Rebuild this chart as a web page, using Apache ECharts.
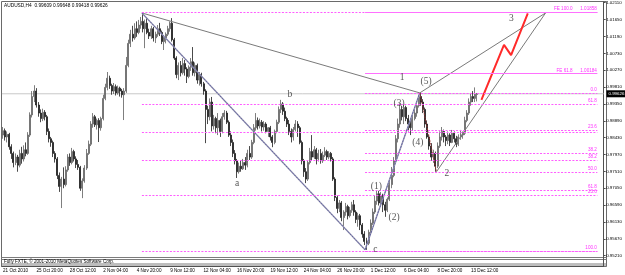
<!DOCTYPE html>
<html>
<head>
<meta charset="utf-8">
<script src="https://cdn.jsdelivr.net/npm/echarts@6/dist/echarts.min.js"></script>
<style>
  html, body { margin: 0; padding: 0; background: #fff; }
  #chart { width: 625px; height: 275px; }
</style>
</head>
<body>
<div id="chart"></div>
<script>
// AUDUSD H4 bars, [open, close, low, high]
const ohlc = [
  [0.9850, 0.9862, 0.9840, 0.9872], [0.9862, 0.9845, 0.9835, 0.9868], [0.9845, 0.9852, 0.9830, 0.9860], [0.9852, 0.9818, 0.9810, 0.9856],
  [0.9818, 0.9800, 0.9785, 0.9825], [0.9800, 0.9775, 0.9762, 0.9805], [0.9775, 0.9790, 0.9768, 0.9800], [0.9790, 0.9768, 0.9750, 0.9796],
  [0.9768, 0.9800, 0.9762, 0.9810], [0.9800, 0.9785, 0.9772, 0.9818], [0.9785, 0.9810, 0.9778, 0.9822], [0.9810, 0.9800, 0.9792, 0.9830],
  [0.9800, 0.9850, 0.9796, 0.9858], [0.9850, 0.9905, 0.9845, 0.9912], [0.9905, 0.9955, 0.9898, 0.9970], [0.9955, 0.9970, 0.9940, 0.9986],
  [0.9970, 0.9932, 0.9925, 0.9978], [0.9932, 0.9910, 0.9900, 0.9940], [0.9910, 0.9895, 0.9885, 0.9920], [0.9895, 0.9912, 0.9888, 0.9922],
  [0.9912, 0.9900, 0.9890, 0.9918], [0.9900, 0.9860, 0.9850, 0.9905], [0.9860, 0.9840, 0.9830, 0.9868], [0.9840, 0.9830, 0.9818, 0.9845],
  [0.9830, 0.9800, 0.9790, 0.9835], [0.9800, 0.9785, 0.9775, 0.9806], [0.9785, 0.9740, 0.9730, 0.9790], [0.9740, 0.9710, 0.9695, 0.9748],
  [0.9710, 0.9730, 0.9651, 0.9736], [0.9730, 0.9715, 0.9705, 0.9762], [0.9715, 0.9755, 0.9710, 0.9765], [0.9755, 0.9790, 0.9750, 0.9798],
  [0.9790, 0.9775, 0.9766, 0.9800], [0.9775, 0.9805, 0.9770, 0.9815], [0.9805, 0.9785, 0.9778, 0.9810], [0.9785, 0.9770, 0.9760, 0.9792],
  [0.9770, 0.9762, 0.9755, 0.9782], [0.9762, 0.9705, 0.9698, 0.9766], [0.9705, 0.9725, 0.9678, 0.9732], [0.9725, 0.9760, 0.9720, 0.9768],
  [0.9760, 0.9800, 0.9755, 0.9812], [0.9800, 0.9825, 0.9796, 0.9835], [0.9825, 0.9880, 0.9820, 0.9888], [0.9880, 0.9900, 0.9870, 0.9910],
  [0.9900, 0.9878, 0.9872, 0.9905], [0.9878, 0.9890, 0.9865, 0.9895], [0.9890, 0.9870, 0.9831, 0.9896], [0.9870, 0.9895, 0.9862, 0.9900],
  [0.9895, 0.9950, 0.9890, 0.9960], [0.9950, 0.9980, 0.9945, 0.9990], [0.9980, 1.0005, 0.9972, 1.0022], [1.0005, 0.9985, 0.9976, 1.0012],
  [0.9985, 0.9970, 0.9960, 0.9990], [0.9970, 0.9982, 0.9962, 0.9992], [0.9982, 0.9965, 0.9958, 0.9988], [0.9965, 0.9978, 0.9960, 0.9985],
  [0.9978, 0.9970, 0.9955, 0.9982], [0.9970, 0.9960, 0.9952, 0.9976], [0.9960, 0.9970, 0.9891, 0.9978], [0.9970, 1.0040, 0.9965, 1.0063],
  [1.0040, 1.0100, 1.0035, 1.0110], [1.0100, 1.0125, 1.0090, 1.0137], [1.0125, 1.0115, 1.0105, 1.0148], [1.0115, 1.0140, 1.0110, 1.0155],
  [1.0140, 1.0130, 1.0118, 1.0160], [1.0130, 1.0150, 1.0125, 1.0164], [1.0150, 1.0160, 1.0140, 1.0172], [1.0160, 1.0140, 1.0130, 1.0183],
  [1.0140, 1.0155, 1.0087, 1.0165], [1.0155, 1.0130, 1.0125, 1.0170], [1.0130, 1.0120, 1.0112, 1.0140], [1.0120, 1.0140, 1.0112, 1.0148],
  [1.0140, 1.0115, 1.0105, 1.0145], [1.0115, 1.0125, 1.0101, 1.0132], [1.0125, 1.0140, 1.0118, 1.0150], [1.0140, 1.0130, 1.0120, 1.0156],
  [1.0130, 1.0105, 1.0098, 1.0135], [1.0105, 1.0115, 1.0082, 1.0120], [1.0115, 1.0125, 1.0100, 1.0130], [1.0125, 1.0140, 1.0120, 1.0148],
  [1.0140, 1.0155, 1.0132, 1.0160], [1.0155, 1.0110, 1.0105, 1.0169], [1.0110, 1.0060, 1.0055, 1.0115], [1.0060, 1.0015, 1.0005, 1.0065],
  [1.0015, 1.0040, 1.0000, 1.0048], [1.0040, 1.0020, 1.0010, 1.0052], [1.0020, 1.0045, 1.0015, 1.0060], [1.0045, 1.0030, 1.0012, 1.0055],
  [1.0030, 1.0010, 0.9992, 1.0035], [1.0010, 1.0035, 1.0005, 1.0040], [1.0035, 1.0050, 1.0025, 1.0060], [1.0050, 1.0020, 1.0012, 1.0090],
  [1.0020, 1.0040, 1.0010, 1.0048], [1.0040, 1.0000, 0.9990, 1.0045], [1.0000, 1.0015, 0.9985, 1.0022], [1.0015, 0.9990, 0.9982, 1.0020],
  [0.9990, 0.9970, 0.9960, 0.9995], [0.9970, 0.9920, 0.9828, 0.9975], [0.9920, 0.9900, 0.9880, 0.9930], [0.9900, 0.9940, 0.9890, 0.9950],
  [0.9940, 0.9875, 0.9860, 0.9954], [0.9875, 0.9895, 0.9865, 0.9905], [0.9895, 0.9870, 0.9855, 0.9900], [0.9870, 0.9890, 0.9850, 0.9910],
  [0.9890, 0.9860, 0.9845, 0.9895], [0.9860, 0.9900, 0.9855, 0.9910], [0.9900, 0.9910, 0.9892, 0.9918], [0.9910, 0.9885, 0.9880, 0.9916],
  [0.9885, 0.9850, 0.9845, 0.9890], [0.9850, 0.9830, 0.9820, 0.9860], [0.9830, 0.9800, 0.9790, 0.9838], [0.9800, 0.9780, 0.9770, 0.9809],
  [0.9780, 0.9750, 0.9733, 0.9785], [0.9750, 0.9765, 0.9745, 0.9775], [0.9765, 0.9758, 0.9750, 0.9780], [0.9758, 0.9775, 0.9755, 0.9785],
  [0.9775, 0.9768, 0.9755, 0.9790], [0.9768, 0.9800, 0.9762, 0.9810], [0.9800, 0.9790, 0.9782, 0.9820], [0.9790, 0.9830, 0.9785, 0.9837],
  [0.9830, 0.9870, 0.9825, 0.9880], [0.9870, 0.9890, 0.9862, 0.9910], [0.9890, 0.9875, 0.9865, 0.9898], [0.9875, 0.9885, 0.9868, 0.9895],
  [0.9885, 0.9872, 0.9860, 0.9891], [0.9872, 0.9880, 0.9862, 0.9888], [0.9880, 0.9860, 0.9855, 0.9885], [0.9860, 0.9870, 0.9845, 0.9872],
  [0.9870, 0.9845, 0.9835, 0.9875], [0.9845, 0.9830, 0.9817, 0.9850], [0.9830, 0.9860, 0.9825, 0.9865], [0.9860, 0.9885, 0.9855, 0.9892],
  [0.9885, 0.9920, 0.9880, 0.9928], [0.9920, 0.9935, 0.9910, 0.9946], [0.9935, 0.9915, 0.9905, 0.9940], [0.9915, 0.9895, 0.9888, 0.9925],
  [0.9895, 0.9880, 0.9872, 0.9900], [0.9880, 0.9860, 0.9850, 0.9891], [0.9860, 0.9845, 0.9830, 0.9868], [0.9845, 0.9865, 0.9835, 0.9872],
  [0.9865, 0.9880, 0.9860, 0.9891], [0.9880, 0.9870, 0.9845, 0.9888], [0.9870, 0.9830, 0.9825, 0.9875], [0.9830, 0.9780, 0.9770, 0.9835],
  [0.9780, 0.9750, 0.9736, 0.9785], [0.9750, 0.9730, 0.9719, 0.9760], [0.9730, 0.9775, 0.9725, 0.9780], [0.9775, 0.9805, 0.9770, 0.9815],
  [0.9805, 0.9790, 0.9780, 0.9850], [0.9790, 0.9810, 0.9785, 0.9820], [0.9810, 0.9785, 0.9770, 0.9815], [0.9785, 0.9800, 0.9778, 0.9810],
  [0.9800, 0.9780, 0.9772, 0.9812], [0.9780, 0.9795, 0.9774, 0.9805], [0.9795, 0.9805, 0.9790, 0.9817], [0.9805, 0.9790, 0.9782, 0.9810],
  [0.9790, 0.9800, 0.9784, 0.9806], [0.9800, 0.9785, 0.9778, 0.9804], [0.9785, 0.9730, 0.9725, 0.9790], [0.9730, 0.9680, 0.9670, 0.9735],
  [0.9680, 0.9650, 0.9637, 0.9685], [0.9650, 0.9665, 0.9640, 0.9673], [0.9665, 0.9625, 0.9615, 0.9670], [0.9625, 0.9640, 0.9591, 0.9645],
  [0.9640, 0.9655, 0.9630, 0.9665], [0.9655, 0.9630, 0.9620, 0.9660], [0.9630, 0.9645, 0.9625, 0.9654], [0.9645, 0.9660, 0.9638, 0.9668],
  [0.9660, 0.9640, 0.9630, 0.9673], [0.9640, 0.9620, 0.9610, 0.9645], [0.9620, 0.9630, 0.9600, 0.9638], [0.9630, 0.9605, 0.9591, 0.9635],
  [0.9605, 0.9580, 0.9570, 0.9610], [0.9580, 0.9560, 0.9550, 0.9588], [0.9560, 0.9555, 0.9537, 0.9570], [0.9555, 0.9585, 0.9550, 0.9592],
  [0.9585, 0.9610, 0.9580, 0.9620], [0.9610, 0.9640, 0.9605, 0.9650], [0.9640, 0.9670, 0.9635, 0.9685], [0.9670, 0.9690, 0.9660, 0.9700],
  [0.9690, 0.9665, 0.9658, 0.9698], [0.9665, 0.9685, 0.9655, 0.9695], [0.9685, 0.9660, 0.9640, 0.9690], [0.9660, 0.9645, 0.9627, 0.9668],
  [0.9645, 0.9675, 0.9640, 0.9680], [0.9675, 0.9715, 0.9670, 0.9727], [0.9715, 0.9740, 0.9705, 0.9763], [0.9740, 0.9780, 0.9735, 0.9790],
  [0.9780, 0.9840, 0.9775, 0.9850], [0.9840, 0.9880, 0.9830, 0.9895], [0.9880, 0.9920, 0.9870, 0.9937], [0.9920, 0.9900, 0.9890, 0.9930],
  [0.9900, 0.9925, 0.9880, 0.9932], [0.9925, 0.9895, 0.9888, 0.9930], [0.9895, 0.9880, 0.9860, 0.9905], [0.9880, 0.9870, 0.9850, 0.9888],
  [0.9870, 0.9895, 0.9862, 0.9905], [0.9895, 0.9910, 0.9890, 0.9920], [0.9910, 0.9930, 0.9900, 0.9937], [0.9930, 0.9955, 0.9925, 0.9960],
  [0.9955, 0.9940, 0.9930, 0.9965], [0.9940, 0.9920, 0.9910, 0.9948], [0.9920, 0.9880, 0.9870, 0.9925], [0.9880, 0.9845, 0.9840, 0.9890],
  [0.9845, 0.9820, 0.9810, 0.9850], [0.9820, 0.9790, 0.9780, 0.9828], [0.9790, 0.9800, 0.9774, 0.9810], [0.9800, 0.9765, 0.9750, 0.9805],
  [0.9765, 0.9820, 0.9760, 0.9830], [0.9820, 0.9845, 0.9815, 0.9860], [0.9845, 0.9860, 0.9835, 0.9872], [0.9860, 0.9845, 0.9830, 0.9865],
  [0.9845, 0.9835, 0.9820, 0.9850], [0.9835, 0.9850, 0.9825, 0.9860], [0.9850, 0.9830, 0.9820, 0.9855], [0.9830, 0.9855, 0.9828, 0.9864],
  [0.9855, 0.9840, 0.9830, 0.9860], [0.9840, 0.9825, 0.9817, 0.9848], [0.9825, 0.9845, 0.9820, 0.9852], [0.9845, 0.9850, 0.9837, 0.9864],
  [0.9850, 0.9855, 0.9840, 0.9860], [0.9855, 0.9890, 0.9850, 0.9900], [0.9890, 0.9910, 0.9885, 0.9918], [0.9910, 0.9940, 0.9905, 0.9950],
  [0.9940, 0.9955, 0.9930, 0.9965], [0.9955, 0.9950, 0.9940, 0.9970], [0.9950, 0.9961, 0.9940, 0.9980], [0.99609, 0.99626, 0.99418, 0.99648]
]

// axis labels
const tickLabels = ['21 Oct 2010', '25 Oct 20:00', '28 Oct 12:00', '2 Nov 04:00', '4 Nov 20:00', '9 Nov 12:00', '12 Nov 04:00',
  '16 Nov 20:00', '19 Nov 12:00', '24 Nov 04:00', '26 Nov 20:00', '1 Dec 12:00', '6 Dec 04:00', '8 Dec 20:00', '13 Dec 12:00']
const tickEvery = 16
const slotCount = 288
const priceTicks = [0.9521, 0.9567, 0.9613, 0.9659, 0.9705, 0.9751, 0.9797, 0.9843, 0.9889, 0.9935,
  0.9981, 1.0027, 1.0073, 1.0119, 1.0165, 1.0211]
const lastBar = ohlc[ohlc.length - 1]

// wave points [bar, price]
const ptX = [66.5, 1.0183]
const pt5 = [199.5, 0.9965]
const pt2 = [207.5, 0.9750]
const ptC = [173.3, 0.9537]
const pt3 = [259.7, 1.0183]
// projected path (red)
const redPath = [[229, 0.9946], [239.8, 1.0096], [243.2, 1.0068], [251.2, 1.0182]]

// wave labels [text, bar, price]
const waveLabels = [
  ['1', 191, 1.0006], ['(5)', 202.5, 0.9997], ['(3)', 189.6, 0.9935], ['(4)', 198.6, 0.9831],
  ['2', 212.5, 0.9744], ['(1)', 178.7, 0.9711], ['(2)', 187.2, 0.9624], ['c', 178.2, 0.9537],
  ['a', 112.1, 0.9719], ['b', 137.3, 0.9962], ['3', 243.3, 1.0169]
]

// fibo levels [startBar, price, label]
const fibEnd = 284.5
const fibLevels = [
  [66.5, 1.0184, ''], [66.5, 0.9935, '61.8'], [66.5, 0.9858, ''], [66.5, 0.9782, '38.2'],
  [66.5, 0.9687, '23.6'], [66.5, 0.9534, ''],
  [173.3, 0.9965, '0.0'], [173.3, 0.9864, '23.6'], [173.3, 0.9801, '38.2'], [173.3, 0.9749, '50.0'],
  [173.3, 0.9700, '61.8'], [173.3, 0.9534, '100.0']
]
const feLevels = [
  [173.3, 1.01858, 'FE 100.0      1.01858'], [173.3, 1.00184, 'FE 61.8      1.00184']
]

const FONT = 'Liberation Sans'
const PINK = '#ff5cff'

const segment = (a, b, style, z) => ({
  type: 'line',
  xAxisIndex: 1,
  data: [a, b],
  symbol: 'none',
  silent: true,
  lineStyle: style,
  z: z || 3
})

const chart = echarts.init(document.getElementById('chart'))
chart.setOption({
  animation: false,
  backgroundColor: '#ffffff',
  grid: { left: 0, right: 18.5, top: 2, bottom: 8.5 },
  xAxis: [
    {
      type: 'category',
      data: Array.from({ length: slotCount }, (_, i) => i),
      boundaryGap: true,
      axisLine: { onZero: false, lineStyle: { color: '#505050', width: 1 } },
      axisTick: {
        alignWithLabel: true,
        length: 2,
        interval: (i) => i % tickEvery === 0 && i / tickEvery < tickLabels.length,
        lineStyle: { color: '#505050' }
      },
      axisLabel: {
        interval: (i) => i % tickEvery === 0 && i / tickEvery < tickLabels.length,
        formatter: (v, i) => tickLabels[i / tickEvery] || '',
        align: 'left',
        fontSize: 4.6,
        fontFamily: FONT,
        color: '#000',
        margin: 2
      },
      splitLine: { show: false }
    },
    {
      type: 'value',
      min: -0.5,
      max: slotCount - 0.5,
      show: false,
      axisLine: { onZero: false },
      splitLine: { show: false }
    }
  ],
  yAxis: {
    type: 'value',
    position: 'right',
    min: 0.94916,
    max: 1.02129,
    splitLine: { show: false },
    axisLine: { show: true, onZero: false, lineStyle: { color: '#505050' } },
    axisTick: { show: true, length: 2, customValues: priceTicks, lineStyle: { color: '#505050' } },
    axisLabel: {
      customValues: priceTicks,
      formatter: (v) => v.toFixed(5),
      fontSize: 4.4,
      fontFamily: FONT,
      color: '#000',
      margin: 2.5
    }
  },
  series: [
    {
      type: 'candlestick',
      data: ohlc,
      barWidth: 1.5,
      itemStyle: {
        color: '#a2a2a2',
        color0: '#1c1c1c',
        borderColor: '#5e5e5e',
        borderColor0: '#1c1c1c',
        borderWidth: 0.8
      },
      z: 2
    },
    // bid line
    segment([-0.5, lastBar[1]], [slotCount - 0.5, lastBar[1]], { color: '#c8c8c8', width: 1 }, 1),
    {
      type: 'line',
      xAxisIndex: 1,
      data: [],
      markLine: {
        silent: true,
        symbol: ['none', 'none'],
        lineStyle: { color: PINK, type: [2, 1.5], width: 1 },
        label: { position: 'insideEndTop', color: '#ff33ff', fontSize: 4.6, fontFamily: FONT, distance: 0.5 },
        data: fibLevels.map(([s, p, t]) => [
          { coord: [s, p], label: { formatter: t, show: t !== '' } },
          { coord: [fibEnd, p] }
        ])
      },
      z: 1
    },
    {
      type: 'line',
      xAxisIndex: 1,
      data: [],
      markLine: {
        silent: true,
        symbol: ['none', 'none'],
        lineStyle: { color: '#ff70ff', type: 'solid', width: 1.2 },
        label: { position: 'insideEndTop', color: '#ff33ff', fontSize: 4.6, fontFamily: FONT, distance: 0.5 },
        data: feLevels.map(([s, p, t]) => [
          { coord: [s, p], label: { formatter: t } },
          { coord: [fibEnd, p] }
        ])
      },
      z: 1
    },
    segment(ptX, pt5, { color: '#7a7a7a', width: 1 }),
    segment(pt5, pt3, { color: '#7a7a7a', width: 1 }),
    segment(pt2, pt3, { color: '#7a7a7a', width: 1 }),
    segment(ptX, ptC, { color: '#9c9cb4', width: 1.4 }),
    segment(ptX, ptC, { color: '#4a4a9a', width: 0.7, type: [2, 1] }),
    segment(ptC, pt5, { color: '#9c9cb4', width: 1.4 }),
    segment(ptC, pt5, { color: '#4a4a9a', width: 0.7, type: [2, 1] }),
    segment(pt5, pt2, { color: '#a03030', width: 0.8, type: [2, 1] }),
    {
      type: 'line',
      xAxisIndex: 1,
      data: redPath,
      symbol: 'none',
      silent: true,
      lineStyle: { color: '#ff2a2a', width: 2 },
      z: 4
    },
    {
      type: 'scatter',
      xAxisIndex: 1,
      symbolSize: 0,
      silent: true,
      data: waveLabels.map(([t, x, y]) => ({ value: [x, y], name: t })),
      label: {
        show: true,
        position: [0, 0],
        align: 'center',
        verticalAlign: 'middle',
        formatter: (p) => p.name,
        fontFamily: 'Liberation Serif',
        fontSize: 9.5,
        color: '#2a2a2a'
      },
      z: 5
    }
  ]
})

// frame, header, copyright strip and the current price box
const yNow = chart.convertToPixel({ yAxisIndex: 0 }, lastBar[1])
const stripLines = [257.5, 259.5, 264, 266].map((y) => ({
  type: 'line',
  shape: { x1: 1.5, y1: y, x2: 606.5, y2: y },
  style: { stroke: '#7c7c7c', lineWidth: 1 },
  silent: true
}))
chart.setOption({
  graphic: [
    {
      type: 'rect',
      shape: { x: 1.5, y: 1.5, width: 605, height: 265 },
      style: { fill: 'none', stroke: '#6a6a6a', lineWidth: 1 },
      silent: true
    },
    ...stripLines,
    {
      type: 'text',
      x: 4,
      y: 261.8,
      style: {
        text: 'Fully FXTE, \u00a9 2001-2010 MetaQuotes Software Corp.',
        font: '4.6px ' + FONT,
        fill: '#000',
        verticalAlign: 'middle'
      },
      silent: true
    },
    {
      type: 'text',
      x: 4,
      y: 5.5,
      style: {
        text: 'AUDUSD,H4  ' + [lastBar[0], lastBar[3], lastBar[2], lastBar[1]].map((v) => v.toFixed(5)).join(' '),
        font: '4.8px ' + FONT,
        fill: '#000',
        verticalAlign: 'middle'
      },
      silent: true
    },
    {
      type: 'rect',
      shape: { x: 606.5, y: yNow - 3.5, width: 18.5, height: 7 },
      style: { fill: '#000' },
      silent: true,
      z: 10
    },
    {
      type: 'text',
      x: 608.5,
      y: yNow,
      style: { text: lastBar[1].toFixed(5), font: '4.4px ' + FONT, fill: '#fff', verticalAlign: 'middle' },
      silent: true,
      z: 11
    }
  ]
})
</script>
</body>
</html>
